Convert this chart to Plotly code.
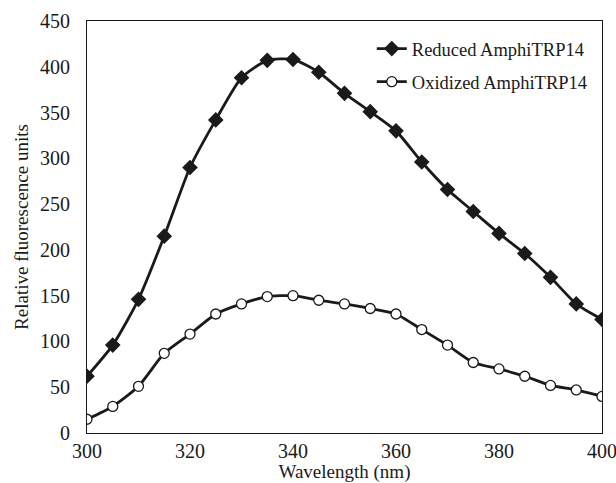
import plotly.graph_objects as go

# wavelength (nm)
wavelength = [300, 305, 310, 315, 320, 325, 330, 335, 340, 345, 350,
              355, 360, 365, 370, 375, 380, 385, 390, 395, 400]

reduced = [62, 96, 146, 215, 290, 342, 388, 407, 408, 394, 371,
           351, 330, 296, 266, 242, 218, 196, 170, 141, 124]

oxidized = [15, 29, 51, 87, 108, 130, 141, 149, 150, 145, 141,
            136, 130, 113, 96, 77, 70, 62, 52, 47, 40]

x_ticks = [300, 320, 340, 360, 380, 400]
y_ticks = [0, 50, 100, 150, 200, 250, 300, 350, 400, 450]

font_family = "Liberation Serif, Times New Roman, serif"

fig = go.Figure()
fig.add_trace(go.Scatter(
    x=wavelength, y=reduced, name="Reduced AmphiTRP14",
    mode="lines+markers", legendgroup="red",
    line=dict(color="#1a1a1a", width=2.8, shape="spline", smoothing=0.6),
    marker=dict(symbol="diamond", size=12, color="#1a1a1a"),
))
fig.add_trace(go.Scatter(
    x=wavelength, y=oxidized, name="Oxidized AmphiTRP14",
    mode="lines+markers", legendgroup="ox",
    line=dict(color="#1a1a1a", width=2.8, shape="spline", smoothing=0.6),
    marker=dict(symbol="circle", size=10, color="white",
                line=dict(color="#1a1a1a", width=1.3)),
))

fig.update_layout(
    width=616, height=483,
    margin=dict(l=87, r=14, t=21, b=50),
    plot_bgcolor="white", paper_bgcolor="white",
    font=dict(family=font_family, size=20, color="#1a1a1a"),
    showlegend=True,
    legend=dict(x=0.553, y=0.978, xanchor="left", yanchor="top",
                bgcolor="rgba(0,0,0,0)", font=dict(size=18.5),
                tracegroupgap=6, itemwidth=30),
)
fig.update_xaxes(
    range=[300, 400], tickvals=x_ticks, showgrid=False, zeroline=False,
    showline=True, linecolor="#1a1a1a", linewidth=1.2, mirror=True,
    ticks="", automargin=False, ticklabelstandoff=0, ticklabeloverflow="allow",
    title=dict(text="Wavelength (nm)", font=dict(size=19), standoff=2),
)
fig.update_yaxes(
    range=[0, 450], tickvals=y_ticks, showgrid=False, zeroline=False,
    showline=True, linecolor="#1a1a1a", linewidth=1.2, mirror=True,
    ticks="", automargin=False, ticklabelstandoff=12,
    title=dict(text="Relative fluorescence units", font=dict(size=19), standoff=6),
)

# page body has a default 8px margin, drop it so the figure fills the window
fig.write_html("out.html", config={"displayModeBar": False},
               post_script="document.body.style.margin='0';")
